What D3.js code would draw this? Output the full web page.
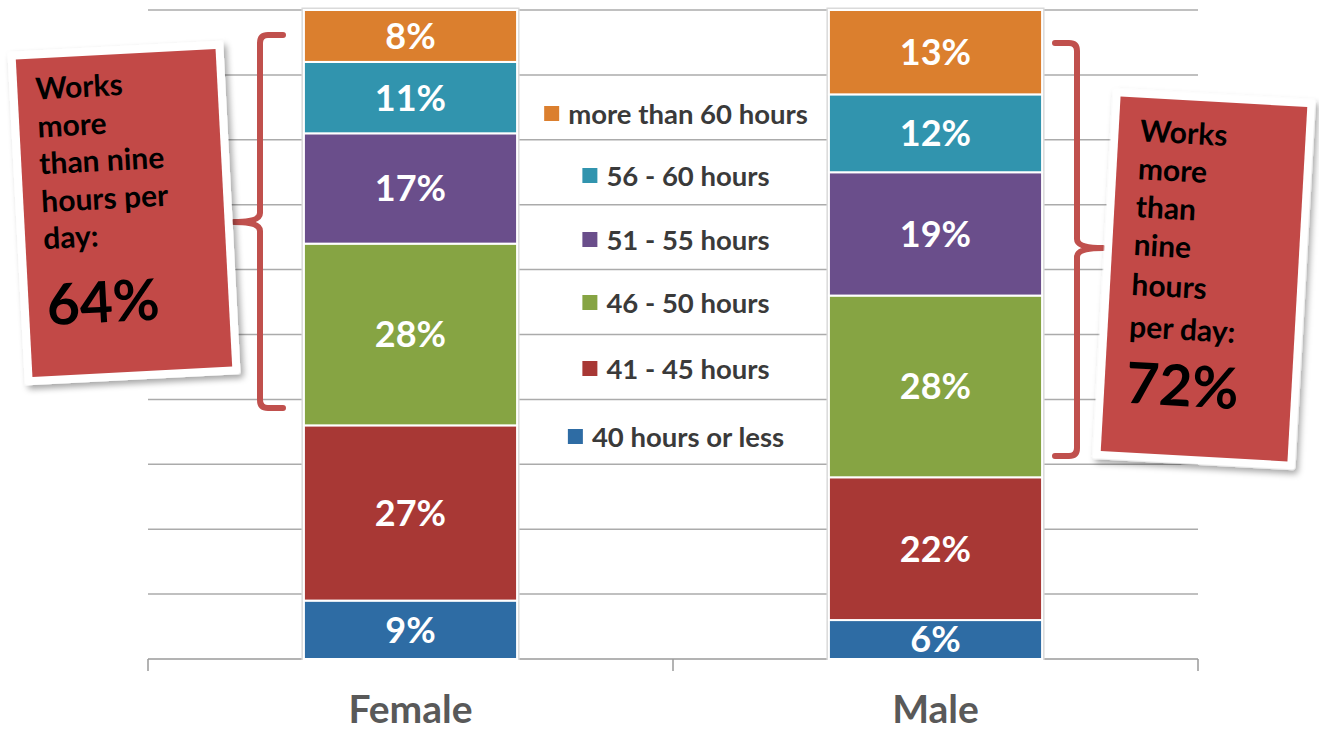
<!DOCTYPE html>
<html>
<head>
<meta charset="utf-8">
<script src="https://cdnjs.cloudflare.com/ajax/libs/d3/7.8.5/d3.min.js"></script>
<style>
	body { margin: 0; background: #fff; }
	svg { display: block; font-family: Lato, "Open Sans", sans-serif; }
</style>
</head>
<body>
<div id="chart"></div>
<script>
	//categories on the x axis
	var genders = ["Female", "Male"];
	//stack order from bottom to top
	var groups = ["40 hours or less", "41 - 45 hours", "46 - 50 hours", "51 - 55 hours", "56 - 60 hours", "more than 60 hours"];
	var colors = ["#2E6CA4", "#A83835", "#86A443", "#6A4E8B", "#3194AE", "#DB7F2E"];
	var femaleValues = [9, 27, 28, 17, 11, 8];
	var maleValues = [6, 22, 28, 19, 12, 13];
	var yTicks = [0, 10, 20, 30, 40, 50, 60, 70, 80, 90, 100];
	var calloutTotals = [64, 72];

	var width = 1319;
	var height = 731;

	var svg = d3.select("#chart").append("svg")
		.attr("width", width)
		.attr("height", height);

	var defs = svg.append("defs");
	var shadow = defs.append("filter").attr("id", "shadow")
		.attr("x", "-10%").attr("y", "-10%").attr("width", "130%").attr("height", "130%");
	shadow.append("feDropShadow")
		.attr("dx", 3).attr("dy", 4).attr("stdDeviation", 3)
		.attr("flood-color", "#000").attr("flood-opacity", 0.35);

	var x = d3.scaleBand()
		.domain(genders)
		.range([148, 1198])
		.paddingInner(0.594)
		.paddingOuter(0.297);

	var y = d3.scaleLinear().domain([0, 100]).range([659, 10]);

	//gridlines
	svg.append("g")
		.selectAll("line")
		.data(yTicks.slice(1))
		.enter().append("line")
		.attr("x1", 148).attr("x2", 1198)
		.attr("y1", function(d) { return y(d); })
		.attr("y2", function(d) { return y(d); })
		.attr("stroke", "#ABABAB")
		.attr("stroke-width", 1.5);

	//x axis with ticks between categories
	var axis = svg.append("g");
	axis.append("line")
		.attr("x1", 148).attr("x2", 1198)
		.attr("y1", y(0)).attr("y2", y(0))
		.attr("stroke", "#9A9A9A").attr("stroke-width", 1.5);
	axis.selectAll("line.tick")
		.data([148, 148 + x.step(), 148 + 2 * x.step()])
		.enter().append("line")
		.attr("class", "tick")
		.attr("x1", function(d) { return d; }).attr("x2", function(d) { return d; })
		.attr("y1", y(0)).attr("y2", y(0) + 12)
		.attr("stroke", "#9A9A9A").attr("stroke-width", 1.5);
	axis.selectAll("text")
		.data(genders)
		.enter().append("text")
		.attr("x", function(d) { return x(d) + x.bandwidth() / 2; })
		.attr("y", 723)
		.attr("text-anchor", "middle")
		.attr("font-size", 39)
		.attr("font-weight", 700)
		.attr("fill", "#595959")
		.text(function(d) { return d; });

	//stacked bars
	var rows = genders.map(function(g, i) {
		var vals = i === 0 ? femaleValues : maleValues;
		var row = { gender: g };
		groups.forEach(function(k, j) { row[k] = vals[j]; });
		return row;
	});
	var series = d3.stack().keys(groups)(rows);

	svg.append("g")
		.selectAll("rect")
		.data(genders)
		.enter().append("rect")
		.attr("x", function(d) { return x(d) - 1.5; })
		.attr("y", y(100) - 1.5)
		.attr("width", x.bandwidth() + 3)
		.attr("height", y(0) - y(100) + 1.5)
		.attr("fill", "none")
		.attr("stroke", "#DADADA")
		.attr("stroke-width", 2);

	var layers = svg.append("g")
		.selectAll("g")
		.data(series)
		.enter().append("g")
		.attr("fill", function(d, i) { return colors[i]; });

	layers.selectAll("rect")
		.data(function(d) { return d; })
		.enter().append("rect")
		.attr("x", function(d) { return x(d.data.gender); })
		.attr("y", function(d) { return y(d[1]); })
		.attr("width", x.bandwidth())
		.attr("height", function(d) { return y(d[0]) - y(d[1]); })
		.attr("stroke", "#fff")
		.attr("stroke-width", 2);

	layers.selectAll("text")
		.data(function(d) { return d; })
		.enter().append("text")
		.attr("x", function(d) { return x(d.data.gender) + x.bandwidth() / 2; })
		.attr("y", function(d) { return (y(d[0]) + y(d[1])) / 2; })
		.attr("dy", "0.36em")
		.attr("text-anchor", "middle")
		.attr("font-size", 36)
		.attr("font-weight", 700)
		.attr("fill", "#fff")
		.text(function(d) { return (d[1] - d[0]) + "%"; });

	//legend, top entry first
	var legendY = [114, 176, 240, 303, 369, 437];
	var legend = svg.append("g")
		.selectAll("g")
		.data(groups.slice().reverse())
		.enter().append("g");
	legend.append("text")
		.attr("y", function(d, i) { return legendY[i]; })
		.attr("dy", "0.35em")
		.attr("font-size", 27.5)
		.attr("font-weight", 700)
		.attr("fill", "#3A3A3A")
		.text(function(d) { return d; });
	legend.each(function(d, i) {
		var g = d3.select(this);
		var tw = g.select("text").node().getComputedTextLength();
		var left = 676 - (tw + 24) / 2;
		g.select("text").attr("x", left + 24);
		g.append("rect")
			.attr("x", left)
			.attr("y", legendY[i] - 8)
			.attr("width", 15).attr("height", 15)
			.attr("fill", colors[groups.indexOf(d)]);
	});

	//braces
	var braceColor = "#C0504D";
	svg.append("path")
		.attr("d", "M283,35 H268 Q260,35 260,43 V213 Q260,222 234,222 Q260,222 260,231 V400 Q260,408 268,408 H283")
		.attr("fill", "none").attr("stroke", braceColor)
		.attr("stroke-width", 6).attr("stroke-linejoin", "round").attr("stroke-linecap", "round");
	svg.append("path")
		.attr("d", "M1055,43 H1069 Q1077,43 1077,51 V239 Q1077,248 1103,248 Q1077,248 1077,257 V448 Q1077,456 1069,456 H1055")
		.attr("fill", "none").attr("stroke", braceColor)
		.attr("stroke-width", 6).attr("stroke-linejoin", "round").attr("stroke-linecap", "round");

	//callout notes
	var callouts = [
		{ cx: 124, cy: 213, w: 216, h: 334, angle: -3, tx: -82,
			lines: ["Works", "more", "than nine", "hours per", "day:"], ly: [-118, -80, -43, -5, 32], py: 108 },
		{ cx: 1204, cy: 279, w: 203, h: 371, angle: 3.2, tx: -72,
			lines: ["Works", "more", "than", "nine", "hours", "per day:"], ly: [-134, -96, -58, -20, 20, 62], py: 128 }
	];

	var notes = svg.append("g")
		.selectAll("g")
		.data(callouts)
		.enter().append("g")
		.attr("transform", function(d) { return "translate(" + d.cx + "," + d.cy + ") rotate(" + d.angle + ")"; });

	notes.append("rect")
		.attr("x", function(d) { return -d.w / 2; })
		.attr("y", function(d) { return -d.h / 2; })
		.attr("width", function(d) { return d.w; })
		.attr("height", function(d) { return d.h; })
		.attr("rx", 3)
		.attr("fill", "#fff")
		.attr("filter", "url(#shadow)");
	notes.append("rect")
		.attr("x", function(d) { return -d.w / 2 + 8; })
		.attr("y", function(d) { return -d.h / 2 + 8; })
		.attr("width", function(d) { return d.w - 16; })
		.attr("height", function(d) { return d.h - 16; })
		.attr("fill", "#C24947");

	notes.each(function(d, i) {
		var g = d3.select(this);
		d.lines.forEach(function(line, j) {
			g.append("text")
				.attr("x", d.tx)
				.attr("y", d.ly[j])
				.attr("font-size", 30)
				.attr("font-weight", 700)
				.attr("fill", "#000")
				.text(line);
		});
		g.append("text")
			.attr("x", d.tx)
			.attr("y", d.py)
			.attr("font-size", 57)
			.attr("font-weight", 700)
			.attr("fill", "#000")
			.text(calloutTotals[i] + "%");
	});
</script>
</body>
</html>
